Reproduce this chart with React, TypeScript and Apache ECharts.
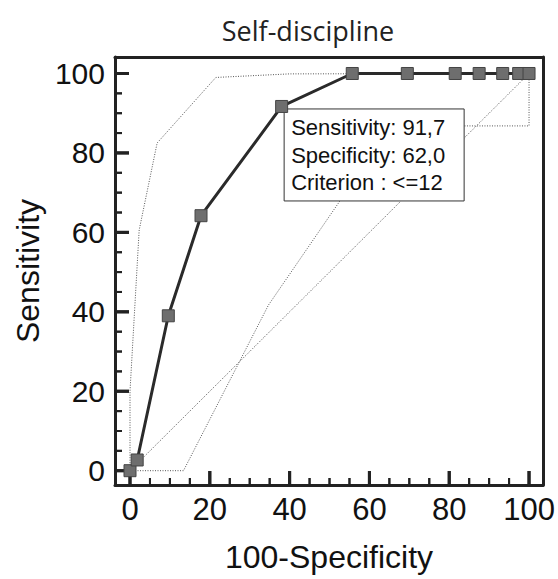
import React, { useEffect, useRef } from "react";
import * as echarts from "echarts";

const titleText = "Self-discipline";
const xName = "100-Specificity";
const yName = "Sensitivity";

const majorTicks = [0, 20, 40, 60, 80, 100];
const minorTicks = [5, 10, 15, 25, 30, 35, 45, 50, 55, 65, 70, 75, 85, 90, 95];

// ROC curve (100-Specificity, Sensitivity)
const rocX = [0, 1.8, 9.6, 17.8, 38.0, 55.7, 69.5, 81.5, 87.5, 93.4, 97.4, 100];
const rocY = [0, 2.7, 39.0, 64.2, 91.7, 100, 100, 100, 100, 100, 100, 100];

// upper confidence bound
const upperX = [0, 0, 2.3, 6.8, 21.5, 40, 100];
const upperY = [0, 20, 60.6, 82.5, 99.0, 99.9, 100];

// lower confidence bound
const lowerX = [0, 13.4, 34.7, 65.5, 100, 100];
const lowerY = [0, 0, 41.7, 86.8, 86.8, 100];

// reference diagonal
const diagX = [0, 100];
const diagY = [0, 100];

const criterionPoint = [38.0, 91.7];
const boxLines = ["Sensitivity: 91,7", "Specificity: 62,0", "Criterion : <=12"];

const zip = (xs: number[], ys: number[]) => xs.map((x, i) => [x, ys[i]]);

export default function App() {
  const ref = useRef<HTMLDivElement>(null);
  useEffect(() => {
    document.body.style.margin = "0";
    const chart = echarts.init(ref.current!, null, { renderer: "svg" });
    const font = "'Liberation Sans', Arial, sans-serif";
    const xMin = -3.76, xMax = 103.5;
    const yMin = -3.6, yMax = 104.15;
    const frameLine = () => ({ show: true, onZero: false, lineStyle: { color: "#222", width: 3 } });
    const hidden = () => ({ show: false });
    const nameStyle = () => ({ fontSize: 32, fontFamily: font, color: "#111" });
    const dotted = { color: "#555", width: 1, type: [1, 1.5] as any };

    // tick rows: [value, axis (0 = x, 1 = y), length]
    const tickRows: number[][] = [];
    majorTicks.forEach((v) => { tickRows.push([v, 0, 14]); tickRows.push([v, 1, 14]); });
    minorTicks.forEach((v) => { tickRows.push([v, 0, 7]); tickRows.push([v, 1, 7]); });

    chart.setOption({
      animation: false,
      grid: { left: 115, right: 15, top: 57, bottom: 94, outerBoundsMode: "none", containLabel: false },
      xAxis: [
        {
          type: "value", min: xMin, max: xMax, position: "bottom",
          axisLine: frameLine(), axisTick: hidden(), splitLine: hidden(),
          axisLabel: { fontSize: 31, fontFamily: font, color: "#111", margin: 9, customValues: majorTicks.slice() },
          name: xName, nameLocation: "middle", nameGap: 56, nameTextStyle: nameStyle(),
        },
        {
          type: "value", min: xMin, max: xMax, position: "top",
          axisLine: frameLine(), axisTick: hidden(), axisLabel: hidden(), splitLine: hidden(),
        },
      ],
      yAxis: [
        {
          type: "value", min: yMin, max: yMax, position: "left",
          axisLine: frameLine(), axisTick: hidden(), splitLine: hidden(),
          axisLabel: { fontSize: 30, fontFamily: font, color: "#111", margin: 10, customValues: majorTicks.slice() },
          name: yName, nameLocation: "middle", nameGap: 70, nameTextStyle: nameStyle(),
        },
        {
          type: "value", min: yMin, max: yMax, position: "right",
          axisLine: frameLine(), axisTick: hidden(), axisLabel: hidden(), splitLine: hidden(),
        },
      ],
      series: [
        {
          type: "custom",
          data: tickRows,
          clip: false,
          z: 4,
          encode: { x: 0, y: 1 },
          renderItem: (params: any, api: any) => {
            const v = api.value(0);
            const axis = api.value(1);
            const len = api.value(2);
            const w = len > 10 ? 3 : 2;
            if (axis === 0) {
              const p = api.coord([v, yMin]);
              return { type: "line", shape: { x1: p[0], y1: p[1], x2: p[0], y2: p[1] - len }, style: { stroke: "#222", lineWidth: w } };
            }
            const p = api.coord([xMin, v]);
            return { type: "line", shape: { x1: p[0], y1: p[1], x2: p[0] + len, y2: p[1] }, style: { stroke: "#222", lineWidth: w } };
          },
        },
        { type: "line", data: zip(diagX, diagY), symbol: "none", lineStyle: dotted, z: 1 },
        { type: "line", data: zip(upperX, upperY), symbol: "none", lineStyle: dotted, z: 1 },
        { type: "line", data: zip(lowerX, lowerY), symbol: "none", lineStyle: dotted, z: 1 },
        {
          type: "line",
          data: zip(rocX, rocY),
          symbol: "rect",
          symbolSize: 12,
          lineStyle: { color: "#2a2a2a", width: 3 },
          itemStyle: { color: "#6e6e6e", borderColor: "#444", borderWidth: 1 },
          z: 10,
        },
      ],
    });
    const toPx = (pt: number[]) => chart.convertToPixel({ xAxisIndex: 0, yAxisIndex: 0 }, pt) as number[];
    const tickLines: any[] = tickRows.map((row) => {
      const [v, axis, len] = row;
      const w = len > 10 ? 3 : 2;
      if (axis === 0) {
        const p = toPx([v, yMin]);
        return { type: "line", shape: { x1: p[0], y1: p[1], x2: p[0], y2: p[1] - len }, style: { stroke: "#222", lineWidth: w } };
      }
      const p = toPx([xMin, v]);
      return { type: "line", shape: { x1: p[0], y1: p[1], x2: p[0] + len, y2: p[1] }, style: { stroke: "#222", lineWidth: w } };
    });
    const p = toPx(criterionPoint);
    const bx = p[0] + 2.5;
    const by = p[1] + 2.5;
    chart.setOption({
      graphic: [
        {
          type: "text",
          x: 308,
          y: 30,
          style: {
            text: titleText,
            fontSize: 27,
            fontFamily: "'Open Sans', 'Noto Sans', sans-serif",
            fill: "#222",
            textAlign: "center",
            textVerticalAlign: "middle",
          },
        },
        {
          type: "group",
          x: bx,
          y: by,
          z: 5,
          children: [
            {
              type: "rect",
              shape: { x: 0, y: 0, width: 180, height: 92 },
              style: { fill: "#fff", stroke: "#333", lineWidth: 1 },
              z: 5,
            },
            ...boxLines.map((t, i) => ({
              type: "text",
              x: 7,
              y: 19 + i * 27.5,
              z: 6,
              style: {
                text: t,
                fontSize: 22,
                fontFamily: font,
                fill: "#111",
                textVerticalAlign: "middle",
              },
            })),
          ],
        },
        { type: "group", x: 0, y: 0, children: tickLines },
      ],
    });
    return () => chart.dispose();
  }, []);
  return <div ref={ref} style={{ width: 558, height: 579 }} />;
}
